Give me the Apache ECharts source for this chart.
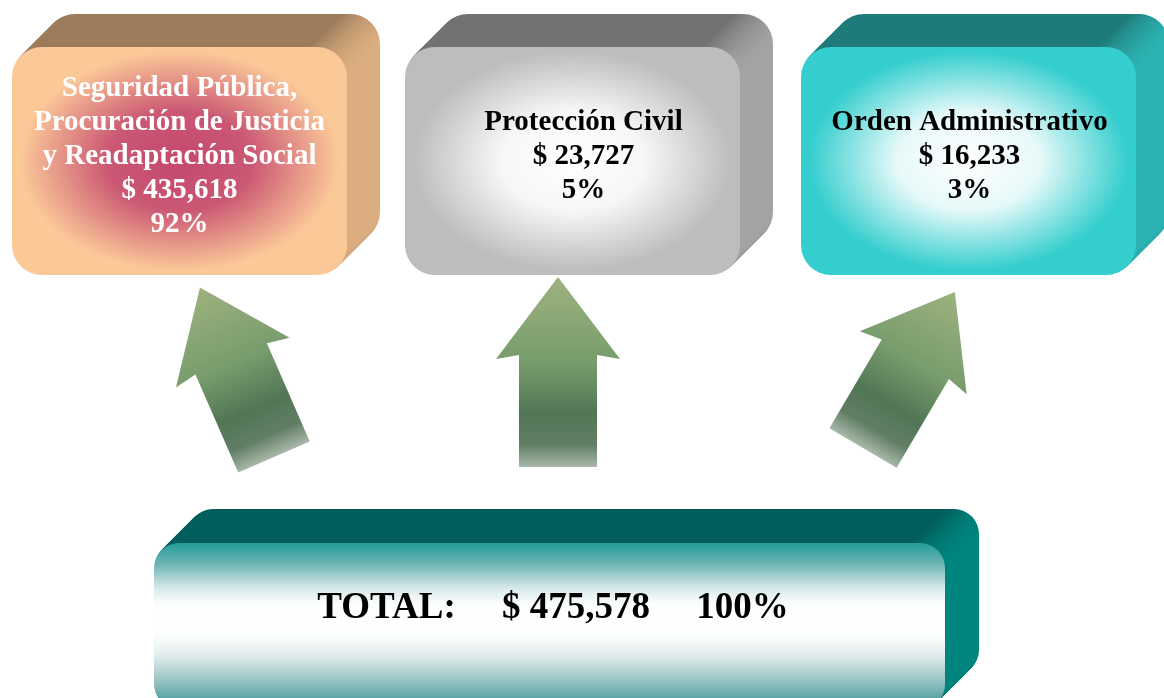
<!DOCTYPE html>
<html>
<head>
<meta charset="utf-8">
<title>Total</title>
<script src="https://cdn.jsdelivr.net/npm/echarts@6/dist/echarts.min.js"></script>
<style>
    html, body { margin: 0; padding: 0; background: #fff; }
    #main { width: 1164px; height: 698px; }
</style>
</head>
<body>
<div id="main"></div>
<script>
// datos
var categories = ['Seguridad Pública,\nProcuración de Justicia\ny Readaptación Social', 'Protección Civil', 'Orden Administrativo'];
var amounts = [435618, 23727, 16233];
var percents = [92, 5, 3];
var totalLabel = 'TOTAL:';
var totalAmount = 475578;
var totalPercent = 100;

// colores de cada caja: cara superior, lado derecho, frente
var topColors = ['#9c7b5b', '#727272', '#1f7b79'];
var sideColors = ['#dcae80', '#a4a4a4', '#2cb4b4'];
var frontColors = ['#fbc898', '#bdbdbd', '#35cece'];
var glowColors = ['196,72,110', '255,255,255', '255,255,255'];
var textColors = ['#ffffff', '#000000', '#000000'];

function money(v) {
    return '$ ' + String(v).replace(/\B(?=(\d{3})+(?!\d))/g, ',');
}

// caja con relieve: rects apilados para el fondo + frente
function box3d(x, y, w, h, r, d, topC, sideC, front) {
    var els = [];
    for (var k = d; k >= 1; k--) {
        els.push({
            type: 'rect',
            silent: true,
            shape: { x: x + k, y: y - k, width: w, height: h, r: r },
            style: {
                fill: {
                    type: 'linear', x: 0, y: 0, x2: 1, y2: 0,
                    colorStops: [
                        { offset: 0, color: topC },
                        { offset: (w - r * 1.3) / w, color: topC },
                        { offset: 1, color: sideC }
                    ]
                }
            }
        });
    }
    els.push({
        type: 'rect',
        silent: true,
        shape: { x: x, y: y, width: w, height: h, r: r },
        style: { fill: front }
    });
    return els;
}

// flecha: base en (0,0), punta hacia arriba
function arrow(cx, cy, deg, len) {
    var headL = 80, headW = 62, shaftW = 39;
    return {
        type: 'polygon',
        silent: true,
        x: cx,
        y: cy,
        rotation: deg * Math.PI / 180,
        shape: {
            points: [
                [0, -len],
                [headW, -len + headL + 2],
                [shaftW, -len + headL - 2],
                [shaftW, 0],
                [-shaftW, 0],
                [-shaftW, -len + headL - 2],
                [-headW, -len + headL + 2]
            ]
        },
        style: {
            fill: {
                type: 'linear', x: 0, y: 0, x2: 0, y2: 1,
                colorStops: [
                    { offset: 0, color: '#9db27f' },
                    { offset: 0.45, color: '#789c6c' },
                    { offset: 0.72, color: '#527655' },
                    { offset: 0.88, color: '#617e64' },
                    { offset: 1, color: '#a8b8aa' }
                ]
            }
        }
    };
}

var boxX = [12, 405, 801];
var boxY = 47, boxW = 335, boxH = 228, boxR = 30, boxD = 33;
var textShift = [0, 11, 1];

var elements = [];

for (var i = 0; i < categories.length; i++) {
    elements = elements.concat(box3d(boxX[i], boxY, boxW, boxH, boxR, boxD, topColors[i], sideColors[i], frontColors[i]));
    // brillo central
    elements.push({
        type: 'circle',
        silent: true,
        x: boxX[i] + boxW / 2,
        y: boxY + boxH / 2,
        scaleX: 1.45,
        shape: { cx: 0, cy: 0, r: 110 },
        style: {
            fill: {
                type: 'radial', x: 0.5, y: 0.5, r: 0.5,
                colorStops: [
                    { offset: 0, color: 'rgba(' + glowColors[i] + ',1)' },
                    { offset: 0.45, color: 'rgba(' + glowColors[i] + ',0.88)' },
                    { offset: 0.78, color: 'rgba(' + glowColors[i] + ',0.35)' },
                    { offset: 1, color: 'rgba(' + glowColors[i] + ',0)' }
                ]
            }
        }
    });
    elements.push({
        type: 'text',
        silent: true,
        x: boxX[i] + boxW / 2 + textShift[i],
        y: 157,
        style: {
            text: categories[i] + '\n' + money(amounts[i]) + '\n' + percents[i] + '%',
            fill: textColors[i],
            font: 'bold 29px "Liberation Serif"',
            align: 'center',
            verticalAlign: 'middle',
            textAlign: 'center',
            textVerticalAlign: 'middle',
            lineHeight: 34
        }
    });
}

// caja total
var totalFront = {
    type: 'linear', x: 0, y: 0, x2: 0, y2: 1,
    colorStops: [
        { offset: 0, color: '#239c99' },
        { offset: 0.13, color: '#6fb5b4' },
        { offset: 0.27, color: '#d7e9e9' },
        { offset: 0.37, color: '#fdfefe' },
        { offset: 0.54, color: '#ffffff' },
        { offset: 0.67, color: '#e4eeee' },
        { offset: 0.81, color: '#a3c8c8' },
        { offset: 0.93, color: '#5ea8a7' },
        { offset: 1, color: '#4aa09f' }
    ]
};
elements = elements.concat(box3d(154, 543, 791, 166, 25, 34, '#025e5b', '#00857f', totalFront));
elements.push({
    type: 'text',
    silent: true,
    x: 553,
    y: 608,
    style: {
        text: totalLabel + '     ' + money(totalAmount) + '     ' + totalPercent + '%',
        fill: '#000000',
        font: 'bold 37px "Liberation Serif"',
        align: 'center',
        verticalAlign: 'middle',
        textAlign: 'center',
        textVerticalAlign: 'middle'
    }
});

// flechas
elements.push(arrow(274, 457, 23.6, 185));
elements.push(arrow(558, 467, 0, 190));
elements.push(arrow(863, 448, -30.5, 181));

var myChart = echarts.init(document.getElementById('main'));
myChart.setOption({
    backgroundColor: '#ffffff',
    animation: false,
    graphic: { elements: elements }
});
</script>
</body>
</html>
